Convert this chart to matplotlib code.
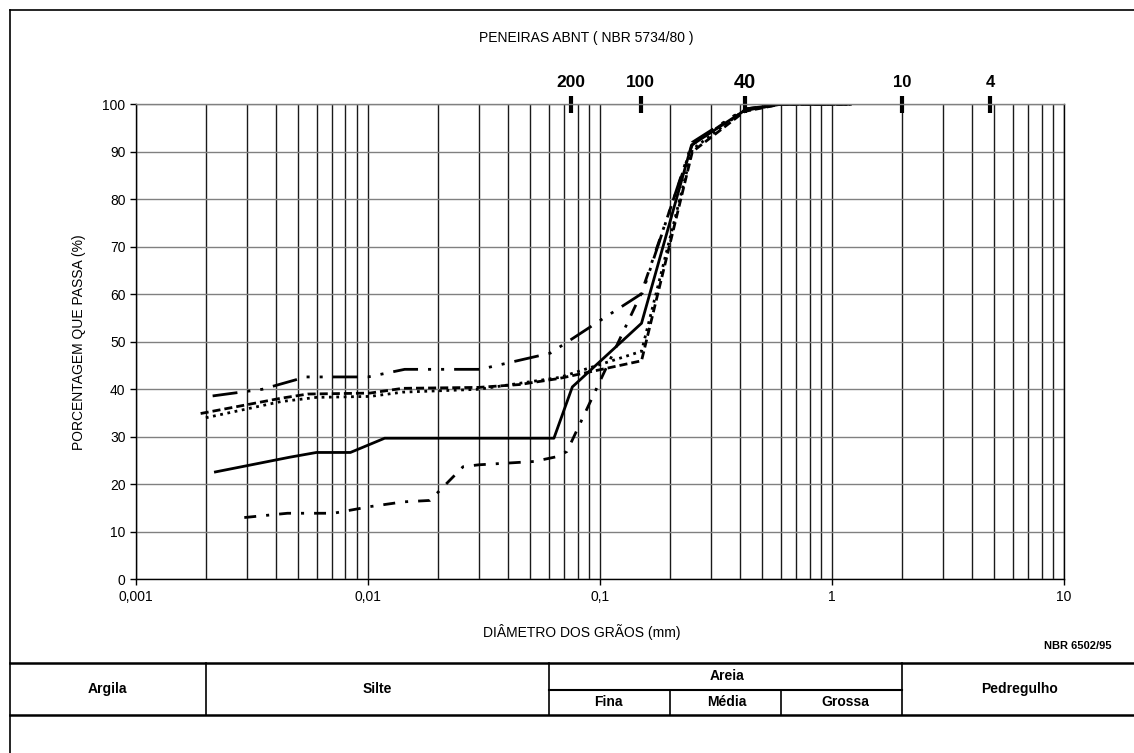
import matplotlib
matplotlib.use("Agg")
import matplotlib.pyplot as plt
from matplotlib.lines import Line2D
from matplotlib.ticker import FixedLocator, FixedFormatter, NullFormatter
from matplotlib.transforms import blended_transform_factory

plt.rcParams['font.family'] = ['Liberation Sans', 'DejaVu Sans']

# --- curvas granulométricas (diâmetro em mm, % que passa) ---
diam_a = [0.0022, 0.0046, 0.006, 0.0084, 0.0118, 0.0633, 0.076, 0.151, 0.248, 0.42, 0.6, 1.2]
pass_a = [22.6, 25.7, 26.7, 26.7, 29.7, 29.7, 40.5, 53.9, 91.4, 98.7, 100, 100]

diam_b = [0.0019, 0.0042, 0.0055, 0.0102, 0.0141, 0.030, 0.045, 0.067, 0.151, 0.25, 0.42, 0.6, 1.2]
pass_b = [34.9, 38.1, 39.0, 39.2, 40.2, 40.4, 41.0, 42.3, 46.0, 90.0, 98.5, 100, 100]

diam_c = [0.002, 0.0042, 0.006, 0.0102, 0.0141, 0.030, 0.067, 0.151, 0.25, 0.42, 0.6, 1.2]
pass_c = [34.0, 37.4, 38.3, 38.5, 39.4, 40.0, 42.5, 48.0, 90.5, 98.8, 100, 100]

diam_d = [0.00214, 0.0035, 0.0054, 0.010, 0.0144, 0.0304, 0.061, 0.101, 0.152, 0.25, 0.42, 0.6, 1.2]
pass_d = [38.6, 40.0, 42.6, 42.6, 44.2, 44.2, 47.6, 54.6, 60.2, 92.0, 99.0, 100, 100]

diam_e = [0.00293, 0.0045, 0.0071, 0.0102, 0.0142, 0.0185, 0.0257, 0.030, 0.052, 0.065, 0.072, 0.15, 0.25, 0.42, 0.6, 1.2]
pass_e = [13.0, 13.9, 13.9, 15.3, 16.3, 16.6, 23.7, 24.1, 24.8, 25.8, 26.9, 60.0, 91.5, 99.0, 100, 100]

# peneiras ABNT
peneiras = ["200", "100", "40", "10", "4"]
abertura = [0.075, 0.15, 0.42, 2.0, 4.8]
tam_fonte = [12.5, 12.5, 14.5, 12, 12]

xticks = [0.001, 0.01, 0.1, 1, 10]
xtick_labels = ["0,001", "0,01", "0,1", "1", "10"]
yticks = list(range(0, 101, 10))

# faixas granulométricas (NBR 6502/95)
lim_argila = 0.002
lim_silte = 0.06
lim_fina = 0.2
lim_media = 0.6
lim_areia = 2.0

fig = plt.figure(figsize=(11.34, 7.53), dpi=100)
ax = fig.add_axes([0.1199, 0.2307, 0.8184, 0.6308])

ax.set_xscale("log")
ax.set_xlim(0.001, 10)
ax.set_ylim(0, 100)

# grade: verticais em todas as divisões log, horizontais a cada 10%
minor = [m * 10.0 ** e for e in range(-3, 1) for m in range(2, 10)]
ax.xaxis.set_major_locator(FixedLocator(xticks))
ax.xaxis.set_major_formatter(FixedFormatter(xtick_labels))
ax.xaxis.set_minor_locator(FixedLocator(minor))
ax.xaxis.set_minor_formatter(NullFormatter())
ax.set_yticks(yticks)
ax.grid(True, which="both", axis="x", color="#1a1a1a", lw=1.0)
ax.grid(True, which="major", axis="y", color="#808080", lw=1.0)
ax.tick_params(axis="x", which="minor", length=0)
ax.tick_params(axis="both", which="major", direction="out", length=4, width=1,
               labelsize=10, color="black")
ax.set_axisbelow(True)

for s in ["left", "bottom", "right"]:
    ax.spines[s].set_color("black")
    ax.spines[s].set_linewidth(1.0)
ax.spines["top"].set_color("#808080")
ax.spines["top"].set_linewidth(1.0)

lw = 2.0
ax.plot(diam_a, pass_a, color="black", lw=lw, ls="-", solid_joinstyle="round")
ax.plot(diam_b, pass_b, color="black", lw=lw, dashes=(2.9, 1.45))
ax.plot(diam_c, pass_c, color="black", lw=lw, ls=":")
ax.plot(diam_d, pass_d, color="black", lw=lw, dashes=(9, 3.6, 1.1, 3.6, 1.1, 3.6))
ax.plot(diam_e, pass_e, color="black", lw=lw, dashes=(4.3, 3.6, 1.1, 3.6))

ax.set_ylabel("PORCENTAGEM QUE PASSA (%)", fontsize=10, labelpad=12)

# marcas das peneiras acima do gráfico
tr_top = ax.get_xaxis_transform()
for nome, d, fs in zip(peneiras, abertura, tam_fonte):
    ax.plot([d, d], [0.981, 1.018], color="black", lw=3, transform=tr_top,
            clip_on=False, solid_capstyle="butt")
    ax.text(d, 1.045, nome, transform=tr_top, ha="center", va="center",
            fontsize=fs, fontweight="bold")

fig.text(586 / 1134, 1 - 38 / 753, "PENEIRAS ABNT ( NBR 5734/80 )",
         ha="center", va="center", fontsize=10)
fig.text(582 / 1134, 1 - 632 / 753, "DIÂMETRO DOS GRÃOS (mm)",
         ha="center", va="center", fontsize=10)
fig.text(1112 / 1134, 1 - 646 / 753, "NBR 6502/95",
         ha="right", va="center", fontsize=8, fontweight="bold")

# moldura
x0 = 10 / 1134
y_top = 1 - 10 / 753
fig.add_artist(Line2D([x0, 1], [y_top, y_top], color="black", lw=1.2,
                      transform=fig.transFigure))
fig.add_artist(Line2D([x0, x0], [0, y_top], color="black", lw=1.2,
                      transform=fig.transFigure))

# tabela de classificação
y1 = 1 - 663 / 753
ym = 1 - 689.5 / 753
y2 = 1 - 715 / 753
fig.add_artist(Line2D([x0, 1], [y1, y1], color="black", lw=1.8, transform=fig.transFigure))
fig.add_artist(Line2D([x0, 1], [y2, y2], color="black", lw=1.8, transform=fig.transFigure))

tb = blended_transform_factory(ax.transData, fig.transFigure)
for d in [lim_argila, lim_silte, lim_areia]:
    ax.plot([d, d], [y1, y2], color="black", lw=1.2, transform=tb, clip_on=False)
ax.plot([lim_silte, lim_areia], [ym, ym], color="black", lw=1.5, transform=tb, clip_on=False)
for d in [lim_fina, lim_media]:
    ax.plot([d, d], [ym, y2], color="black", lw=1.2, transform=tb, clip_on=False)

kw = dict(ha="center", va="center", fontsize=10, fontweight="bold")
y_mid = (y1 + y2) / 2
fig.text((10 + 205) / 2 / 1134, y_mid, "Argila", **kw)
fig.text((205 + 550) / 2 / 1134, y_mid, "Silte", **kw)
fig.text((904 + 1134) / 2 / 1134, y_mid, "Pedregulho", **kw)
fig.text((550 + 904) / 2 / 1134, (y1 + ym) / 2, "Areia", **kw)
fig.text((550 + 667) / 2 / 1134, (ym + y2) / 2, "Fina", **kw)
fig.text((667 + 786) / 2 / 1134, (ym + y2) / 2, "Média", **kw)
fig.text((786 + 904) / 2 / 1134, (ym + y2) / 2, "Grossa", **kw)

fig.savefig("out.png", dpi=100)
